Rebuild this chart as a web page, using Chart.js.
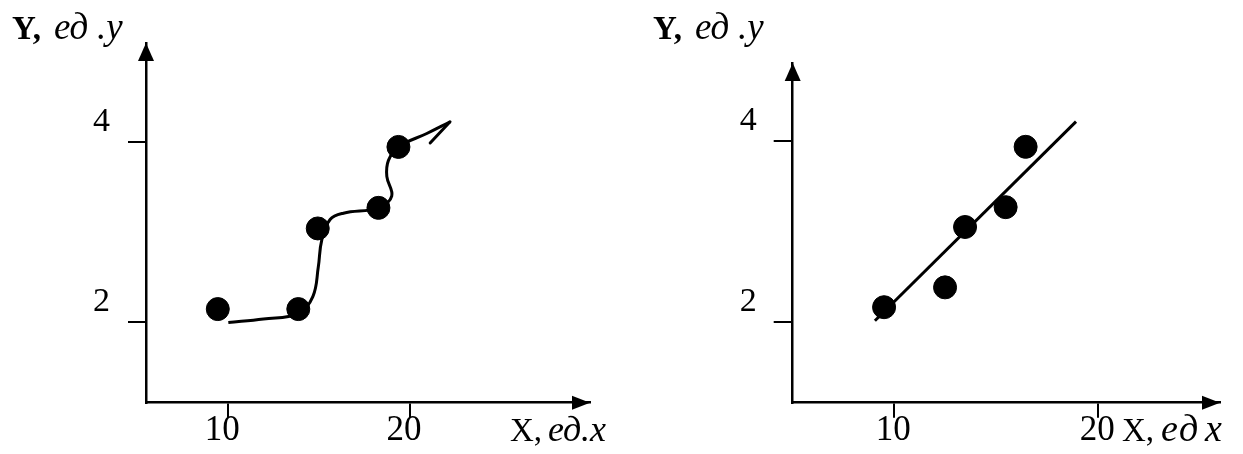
<!DOCTYPE html>
<html>
<head>
<meta charset="utf-8">
<script src="https://cdn.jsdelivr.net/npm/chart.js@4/dist/chart.umd.min.js"></script>
<style>
  html, body { margin: 0; padding: 0; background: #fff; }
  #wrap { position: relative; width: 1243px; height: 454px; overflow: hidden; }
  canvas { position: absolute; top: 0; }
  #left { left: 0; }
  #right { left: 620px; }
</style>
</head>
<body>
<div id="wrap">
  <canvas id="left" width="620" height="454"></canvas>
  <canvas id="right" width="623" height="454"></canvas>
</div>
<script>
// left panel: measured points and the hand drawn curve through them
const leftPtsX = [9.42, 13.85, 14.92, 18.26, 19.36];
const leftPtsY = [2.14, 2.14, 3.04, 3.27, 3.95];
const curveX = [10.0, 11.93, 13.85, 14.65, 14.95, 15.14, 15.60, 16.33, 18.26, 18.99, 18.72, 18.81, 19.36, 20.92, 22.20];
const curveY = [1.99, 2.03, 2.09, 2.28, 2.61, 2.91, 3.14, 3.21, 3.27, 3.40, 3.62, 3.80, 3.95, 4.10, 4.23];

// right panel: same kind of points with a straight fitted line
const rightPtsX = [9.50, 12.49, 13.47, 15.46, 16.44];
const rightPtsY = [2.16, 2.38, 3.05, 3.27, 3.94];
const lineX = [9.05, 18.91];
const lineY = [2.01, 4.22];

const xTicks = [10, 20];
const yTicks = [2, 4];

const pairs = (xs, ys) => xs.map((x, i) => ({ x: x, y: ys[i] }));
const serif = "'Liberation Serif', serif";

function makeScales(o) {
    return {
        x: {
            type: 'linear', min: o.xMin, max: o.xMax,
            afterBuildTicks: s => { s.ticks = xTicks.map(v => ({ value: v })); },
            afterFit: s => { s.height = o.xHeight; },
            border: { display: true, color: '#000', width: 2.5 },
            grid: { drawOnChartArea: false, drawTicks: true, tickLength: 15, color: '#000', lineWidth: 2 },
            ticks: { color: '#000', font: { family: serif, size: 35 }, padding: -8, labelOffset: o.xLabelOffset, maxRotation: 0 }
        },
        y: {
            type: 'linear', min: o.yMin, max: o.yMax,
            afterBuildTicks: s => { s.ticks = yTicks.map(v => ({ value: v })); },
            afterFit: s => { s.width = o.yWidth; },
            border: { display: true, color: '#000', width: 2.5 },
            grid: { drawOnChartArea: false, drawTicks: true, tickLength: o.yTickLen, color: '#000', lineWidth: 2 },
            ticks: { color: '#000', font: { family: serif, size: 34 }, padding: o.yPad, labelOffset: -20 }
        }
    };
}

// axis captions, drawn piece by piece: [text, dx, font]
const yCaption = [['Y,', 0, 'bold 33px'], ['ед', 42, 'italic 37px'], ['.y', 85, 'italic 37px']];
const xCaptionLeft = [['X,', 0, '33px'], ['ед', 38, 'italic 36px'], ['.x', 71, 'italic 36px']];
const xCaptionRight = [['X,', 0, '33px'], ['е', 39, 'italic 38px'], ['д', 57, 'italic 38px'], ['x', 83, 'italic 38px']];

function drawCaption(ctx, pieces, x0, y0) {
    pieces.forEach(p => {
        ctx.font = p[2] + ' ' + serif;
        ctx.fillText(p[0], x0 + p[1], y0);
    });
}

// arrows on the axes, axis captions and the barb at the end of the curve
function decor(cfg) {
    return {
        id: 'decor',
        afterDraw(chart) {
            const ctx = chart.ctx;
            const a = chart.chartArea;
            ctx.save();
            ctx.fillStyle = '#000';
            ctx.strokeStyle = '#000';

            ctx.beginPath();
            ctx.moveTo(a.right, a.bottom);
            ctx.lineTo(a.right - 18, a.bottom - 7);
            ctx.lineTo(a.right - 18, a.bottom + 7);
            ctx.closePath();
            ctx.fill();

            ctx.beginPath();
            ctx.moveTo(a.left, a.top);
            ctx.lineTo(a.left - 8, a.top + 18);
            ctx.lineTo(a.left + 8, a.top + 18);
            ctx.closePath();
            ctx.fill();

            ctx.textBaseline = 'alphabetic';
            ctx.textAlign = 'left';
            drawCaption(ctx, yCaption, cfg.yTitle[0], cfg.yTitle[1]);
            drawCaption(ctx, cfg.xCaption, cfg.xTitle[0], cfg.xTitle[1]);

            if (cfg.barb) {
                const pts = chart.getDatasetMeta(1).data;
                const p = pts[pts.length - 1], q = pts[pts.length - 2];
                const back = Math.atan2(q.y - p.y, q.x - p.x) - 0.35;
                ctx.lineWidth = 3;
                ctx.lineCap = 'round';
                ctx.beginPath();
                ctx.moveTo(p.x, p.y);
                ctx.lineTo(p.x + 29 * Math.cos(back), p.y + 29 * Math.sin(back));
                ctx.stroke();
            }
            ctx.restore();
        }
    };
}

const common = {
    responsive: false,
    animation: false,
    events: [],
    plugins: { legend: { display: false }, tooltip: { enabled: false } }
};

new Chart(document.getElementById('left'), {
    type: 'scatter',
    data: {
        datasets: [
            { data: pairs(leftPtsX, leftPtsY), pointRadius: 11.5, backgroundColor: '#000', borderColor: '#000', showLine: false, clip: false },
            { data: pairs(curveX, curveY), showLine: true, pointRadius: 0, borderColor: '#000', borderWidth: 3, tension: 0.4, clip: false }
        ]
    },
    options: Object.assign({}, common, {
        layout: { padding: { left: 86, top: 43, right: 30, bottom: 0 } },
        scales: makeScales({ xMin: 5.47, xMax: 29.9, yMin: 1.095, yMax: 5.11, xHeight: 51.3, yWidth: 60, yTickLen: 18, yPad: 18, xLabelOffset: -6 })
    }),
    plugins: [decor({ yTitle: [12, 39], xTitle: [510, 441], xCaption: xCaptionLeft, barb: true })]
});

new Chart(document.getElementById('right'), {
    type: 'scatter',
    data: {
        datasets: [
            { data: pairs(rightPtsX, rightPtsY), pointRadius: 11.5, backgroundColor: '#000', borderColor: '#000', showLine: false, clip: false },
            { data: pairs(lineX, lineY), showLine: true, pointRadius: 0, borderColor: '#000', borderWidth: 3, clip: false }
        ]
    },
    options: Object.assign({}, common, {
        layout: { padding: { left: 112.7, top: 63, right: 23, bottom: 0 } },
        scales: makeScales({ xMin: 5.02, xMax: 25.97, yMin: 1.1, yMax: 4.87, xHeight: 51.3, yWidth: 60, yTickLen: 19, yPad: 17, xLabelOffset: -1 })
    }),
    plugins: [decor({ yTitle: [33, 39], xTitle: [502, 441], xCaption: xCaptionRight, barb: false })]
});
</script>
</body>
</html>
